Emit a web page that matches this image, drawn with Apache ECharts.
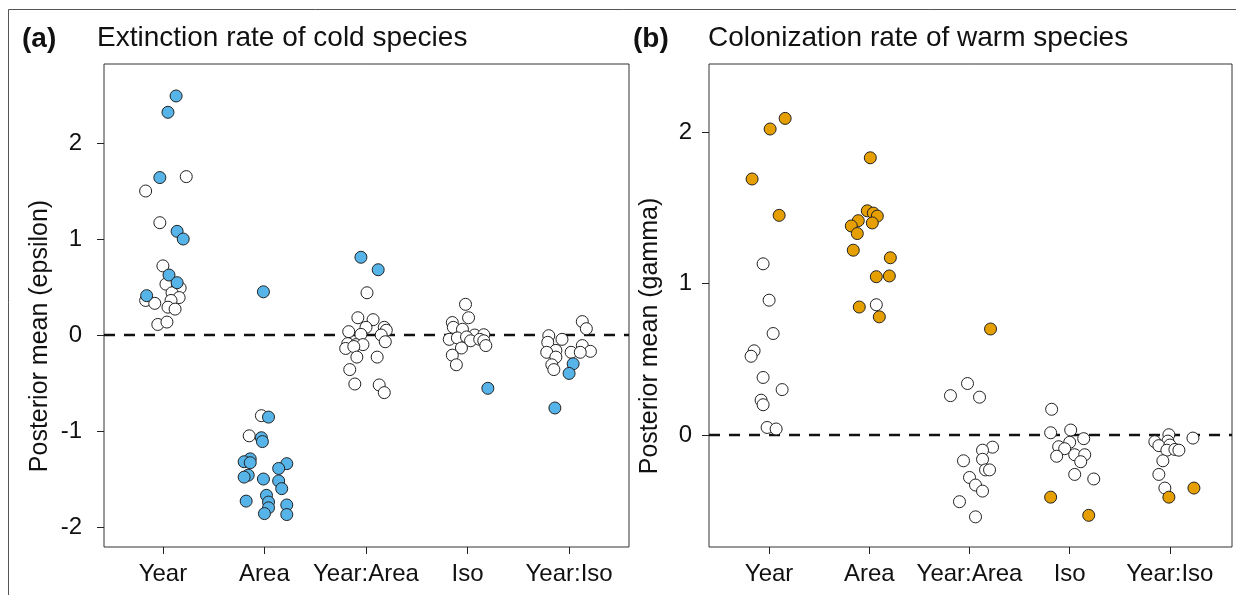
<!DOCTYPE html>
<html>
<head>
<meta charset="utf-8">
<script src="https://cdn.jsdelivr.net/npm/echarts@6/dist/echarts.min.js"></script>
<style>
  html, body { margin: 0; padding: 0; background: #fff; }
  #chart { width: 1236px; height: 595px; }
</style>
</head>
<body>
<div id="chart"></div>
<script>
// categories on the x axis (same for both panels)
const categories = ['Year', 'Area', 'Year:Area', 'Iso', 'Year:Iso']

// panel (a): extinction of cold species, [jittered x, posterior mean]
const coldBlue = [
  [1.13, 2.49], [1.05, 2.32], [0.97, 1.64], [1.14, 1.08], [1.20, 1.00], [1.06, 0.625], [1.14, 0.545], [0.84, 0.41],
  [1.99, 0.45], [2.04, -0.855], [1.97, -1.07], [1.98, -1.11], [1.86, -1.29], [1.80, -1.32], [1.86, -1.33],
  [2.22, -1.34], [2.14, -1.39], [1.84, -1.46], [1.80, -1.48], [1.99, -1.50], [2.14, -1.52], [2.17, -1.60],
  [2.02, -1.67], [1.82, -1.73], [2.04, -1.74], [2.22, -1.77], [2.04, -1.80], [2.00, -1.86], [2.22, -1.87],
  [2.95, 0.81], [3.12, 0.68],
  [4.20, -0.555],
  [5.04, -0.30], [5.00, -0.40], [4.86, -0.76]
]
const coldWhite = [
  [1.23, 1.65], [0.83, 1.50], [0.97, 1.17], [1.00, 0.72], [1.03, 0.53], [1.17, 0.49], [1.09, 0.44], [1.16, 0.39],
  [0.83, 0.36], [0.92, 0.33], [1.08, 0.36], [1.05, 0.29], [1.12, 0.27], [0.95, 0.11], [1.04, 0.135],
  [1.97, -0.84], [1.85, -1.05],
  [3.01, 0.44], [2.92, 0.18], [3.07, 0.16], [3.00, 0.08], [3.18, 0.08], [3.20, 0.05], [2.83, 0.035], [2.95, 0.007],
  [3.15, 0.0], [3.19, -0.07], [2.82, -0.09], [2.90, -0.10], [2.97, -0.10], [2.80, -0.14], [2.88, -0.12],
  [2.91, -0.23], [3.11, -0.23], [2.84, -0.36], [2.89, -0.51], [3.13, -0.52], [3.18, -0.60],
  [3.98, 0.32], [4.01, 0.18], [3.85, 0.13], [3.86, 0.08], [3.95, 0.06], [4.07, 0.0], [4.16, 0.003], [3.82, -0.045],
  [3.90, -0.03], [3.99, -0.02], [4.03, -0.06], [4.12, -0.045], [4.16, -0.06], [4.18, -0.11], [3.94, -0.135],
  [3.85, -0.21], [3.89, -0.31],
  [5.13, 0.14], [5.17, 0.066], [4.80, -0.007], [4.93, -0.045], [4.79, -0.076], [4.87, -0.16], [4.78, -0.18],
  [5.13, -0.11], [5.02, -0.18], [5.21, -0.17], [5.11, -0.18], [4.87, -0.23], [4.83, -0.31], [4.85, -0.36]
]

// panel (b): colonization of warm species
const warmOrange = [
  [1.16, 2.09], [1.01, 2.02], [0.83, 1.69], [1.10, 1.45],
  [2.01, 1.83], [1.98, 1.48], [2.04, 1.465], [2.08, 1.445], [1.89, 1.415], [2.03, 1.40], [1.82, 1.38],
  [1.88, 1.33], [1.84, 1.22], [2.21, 1.17], [2.07, 1.045], [2.20, 1.05], [1.90, 0.845], [2.10, 0.78],
  [3.21, 0.70],
  [3.81, -0.41], [4.19, -0.53],
  [4.99, -0.41], [5.24, -0.35]
]
const warmWhite = [
  [0.94, 1.13], [1.00, 0.89], [1.04, 0.67], [0.85, 0.556], [0.82, 0.52], [0.94, 0.38], [1.13, 0.30],
  [0.92, 0.23], [0.94, 0.20], [0.98, 0.05], [1.07, 0.04],
  [2.07, 0.86],
  [2.98, 0.34], [2.81, 0.26], [3.10, 0.25], [3.23, -0.08], [3.13, -0.10], [2.94, -0.17], [3.13, -0.16],
  [3.16, -0.23], [3.20, -0.23], [3.00, -0.28], [3.06, -0.33], [3.13, -0.37], [2.90, -0.44], [3.06, -0.54],
  [3.82, 0.17], [3.81, 0.015], [4.01, 0.033], [4.14, -0.024], [4.00, -0.048], [3.89, -0.077], [3.95, -0.09],
  [3.87, -0.14], [4.05, -0.13], [4.15, -0.13], [4.11, -0.176], [4.05, -0.26], [4.24, -0.29],
  [4.99, 0.002], [5.23, -0.02], [4.85, -0.044], [4.98, -0.04], [4.89, -0.07], [5.00, -0.066], [4.97, -0.10],
  [5.05, -0.095], [5.09, -0.10], [4.93, -0.17], [4.89, -0.26], [4.95, -0.35]
]

const coldTicks = [-2, -1, 0, 1, 2]
const warmTicks = [0, 1, 2]

const FONT = 'Liberation Sans'
const INK = '#222'

const chart = echarts.init(document.getElementById('chart'))

const xAxisFor = (idx, min, max) => ({
  type: 'value',
  gridIndex: idx,
  min,
  max,
  splitLine: { show: false },
  axisLine: { show: false, onZero: false },
  axisTick: { show: true, customValues: [1, 2, 3, 4, 5], length: 7, lineStyle: { color: INK } },
  axisLabel: {
    customValues: [1, 2, 3, 4, 5],
    formatter: v => categories[Math.round(v) - 1],
    fontFamily: FONT,
    fontSize: 24,
    color: '#111',
    margin: 15
  }
})

const yAxisFor = (idx, min, max, ticks, margin) => ({
  type: 'value',
  gridIndex: idx,
  min,
  max,
  splitLine: { show: false },
  axisLine: { show: false, onZero: false },
  axisTick: { show: true, customValues: ticks, length: 7, lineStyle: { color: INK } },
  axisLabel: {
    customValues: ticks,
    fontFamily: FONT,
    fontSize: 24,
    color: '#111',
    margin,
    formatter: v => String(v)
  }
})

const dots = (idx, data, color) => ({
  type: 'scatter',
  xAxisIndex: idx,
  yAxisIndex: idx,
  data,
  symbol: 'circle',
  symbolSize: 12,
  z: 3,
  itemStyle: { color, borderColor: '#222', borderWidth: 1, opacity: 1 },
  emphasis: { disabled: true }
})

const zeroLine = (idx, x0, x1) => ({
  type: 'line',
  xAxisIndex: idx,
  yAxisIndex: idx,
  data: [[x0, 0], [x1, 0]],
  symbol: 'none',
  silent: true,
  z: 2,
  lineStyle: { color: '#111', width: 2.5, type: [11, 9] }
})

const yName = (x, y, text) => ({
  type: 'text',
  x,
  y,
  rotation: Math.PI / 2,
  style: { text, font: '25px "Liberation Sans"', fill: '#111', align: 'center', verticalAlign: 'middle' },
  silent: true
})

chart.setOption({
  animation: false,
  backgroundColor: '#fff',
  grid: [
    { left: 104, top: 64, width: 525, height: 483, show: true, borderColor: '#333', borderWidth: 1, backgroundColor: 'transparent' },
    { left: 709, top: 64, width: 523, height: 483, show: true, borderColor: '#333', borderWidth: 1, backgroundColor: 'transparent' }
  ],
  xAxis: [xAxisFor(0, 0.42, 5.59), xAxisFor(1, 0.40, 5.62)],
  yAxis: [
    yAxisFor(0, -2.208, 2.823, coldTicks, 22),
    yAxisFor(1, -0.739, 2.449, warmTicks, 17)
  ],
  graphic: [
    { type: 'rect', shape: { x: 8.5, y: 9.5, width: 1400, height: 800 }, style: { fill: 'none', stroke: '#555', lineWidth: 1 }, silent: true },
    { type: 'text', left: 22, top: 25, style: { text: '(a)', font: 'bold 28px "Liberation Sans"', fill: '#111' } },
    { type: 'text', left: 97, top: 24, style: { text: 'Extinction rate of cold species', font: '28px "Liberation Sans"', fill: '#111' } },
    { type: 'text', left: 633, top: 25, style: { text: '(b)', font: 'bold 28px "Liberation Sans"', fill: '#111' } },
    { type: 'text', left: 708, top: 24, style: { text: 'Colonization rate of warm species', font: '28px "Liberation Sans"', fill: '#111' } },
    yName(40, 336, 'Posterior mean (epsilon)'),
    yName(650, 336, 'Posterior mean (gamma)')
  ],
  series: [
    zeroLine(0, 0.42, 5.59),
    dots(0, coldWhite, '#ffffff'),
    dots(0, coldBlue, '#56B4E9'),
    zeroLine(1, 0.40, 5.62),
    dots(1, warmWhite, '#ffffff'),
    dots(1, warmOrange, '#E69F00')
  ]
})
</script>
</body>
</html>
